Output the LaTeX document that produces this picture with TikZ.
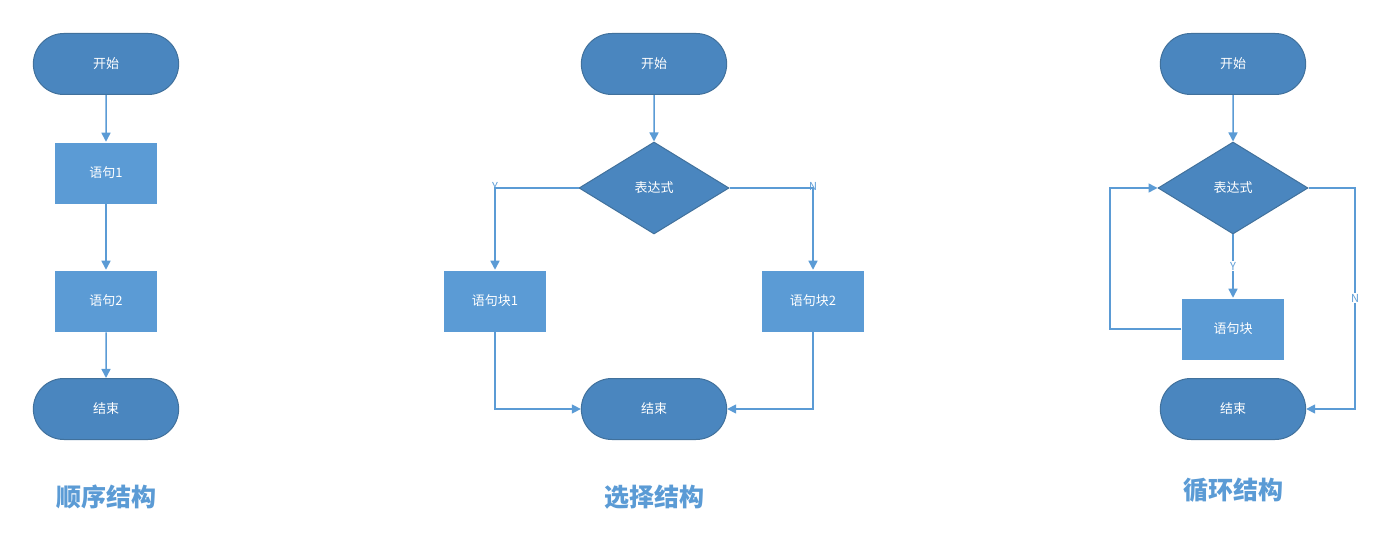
\documentclass[tikz,border=0pt]{standalone}
\usepackage{fontspec}
\setmainfont{Noto Sans CJK SC}
\usetikzlibrary{shapes.geometric,arrows.meta}
\definecolor{dk}{HTML}{4A86BF}
\definecolor{dkb}{HTML}{41719C}
\definecolor{lt}{HTML}{5B9BD5}
\begin{document}
\begin{tikzpicture}[x=1pt,y=-1pt,
 term/.style={rounded rectangle,fill=dk,draw=dkb,line width=1pt,minimum width=152pt,minimum height=61pt,text=white,font=\fontsize{13}{15}\selectfont},
 box/.style={rectangle,fill=lt,draw=white,line width=0.5pt,minimum width=103pt,minimum height=62pt,text=white,font=\fontsize{13}{15}\selectfont},
 dia/.style={diamond,aspect=1.64,fill=dk,draw=dkb,line width=1pt,inner sep=0pt,minimum width=150pt,minimum height=92pt,text=white,font=\fontsize{13}{15}\selectfont},
 ar/.style={draw=lt,line width=1.5pt,-{Triangle[length=9pt,width=9pt]}},
 lab/.style={text=lt,font=\fontsize{11}{13}\selectfont},
 title/.style={text=lt,font=\bfseries\fontsize{25}{28}\selectfont}]
\usetikzlibrary{shapes.misc}
\path[use as bounding box] (0,0) rectangle (1400,537);
% left
\node[term] (s1) at (106,64) {开始};
\node[box] (a1) at (106,173) {语句1};
\node[box] (a2) at (106,301) {语句2};
\node[term] (e1) at (106,409) {结束};
\draw[ar] (s1) -- (a1); \draw[ar] (a1) -- (a2); \draw[ar] (a2) -- (e1);
\node[title] (t1) at (106,497) {顺序结构};
% middle
\node[term] (s2) at (654,64) {开始};
\node[dia] (d2) at (654,188) {表达式};
\node[box] (b1) at (495,301) {语句块1};
\node[box] (b2) at (813,301) {语句块2};
\node[term] (e2) at (654,409) {结束};
\draw[ar] (s2) -- (d2);
\draw[ar] (d2.west) -| (b1.north);
\draw[ar] (d2.east) -| (b2.north);
\draw[ar] (b1.south) |- (e2.west);
\draw[ar] (b2.south) |- (e2.east);
\node[lab] (y2) at (495,186) {Y};
\node[lab] (n2) at (813,186) {N};
\node[title] (t2) at (654,497) {选择结构};
% right
\node[term] (s3) at (1233,64) {开始};
\node[dia] (d3) at (1233,188) {表达式};
\node[box] (c1) at (1233,329) {语句块};
\node[term] (e3) at (1233,409) {结束};
\coordinate (l1) at (1110,329);
\coordinate (r1) at (1355,188);
\draw[ar] (s3) -- (d3);
\draw[ar] (d3) -- (c1);
\draw[ar] (c1.west) -- (l1) |- (d3.west);
\draw[ar] (d3.east) -- (r1) |- (e3.east);
\node[lab,fill=white,inner sep=1pt] (y3) at (1233,266) {Y};
\node[lab,fill=white,inner sep=1pt] (n3) at (1355,298) {N};
\node[title] (t3) at (1233,490) {循环结构};
\end{tikzpicture}
\end{document}
